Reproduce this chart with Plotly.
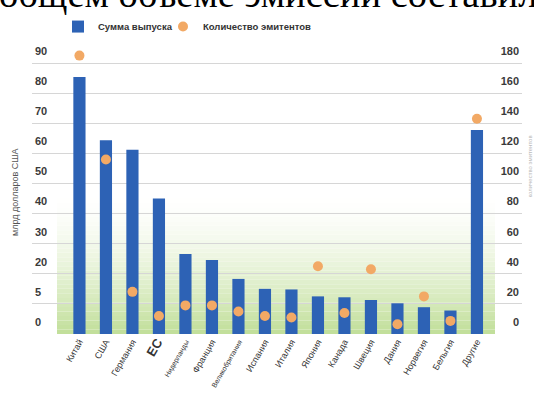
import plotly.graph_objects as go

# ---- data ----
categories = ["Китай", "США", "Германия", "ЕС", "Нидерланды", "Франция",
              "Великобритания", "Испания", "Италия", "Япония", "Канада",
              "Швеция", "Дания", "Норвегия", "Бельгия", "Другие"]
issue_volume = [85.4, 64.4, 61.2, 45.0, 26.6, 24.6, 18.3, 15.0, 14.8,
                12.5, 12.2, 11.3, 10.2, 8.9, 7.8, 67.8]
issuer_count = [185, 116, 28, 12, 19, 19, 15, 12, 11, 45, 14, 43, 6.5, 25, 8.7, 143]

left_tick_vals = [0, 10, 20, 30, 40, 50, 60, 70, 80, 90]
left_tick_text = ["0", "5", "20", "30", "40", "50", "60", "70", "80", "90"]
right_tick_vals = [0, 20, 40, 60, 80, 100, 120, 140, 160, 180]
right_tick_text = ["0", "20", "40", "60", "80", "100", "120", "140", "160", "180"]

x_tick_text = []
for c in categories:
    if c == "ЕС":
        x_tick_text.append("<span style='font-size:13px'><b>ЕС</b></span>")
    elif c in ("Нидерланды", "Великобритания"):
        x_tick_text.append(f"<span style='font-size:7px'>{c}</span>")
    else:
        x_tick_text.append(c)

W, H = 534, 401
ML, MR, MT, MB = 32, 12, 50, 64
plot_w = W - ML - MR
plot_h = H - MT - MB
px_per_unit = 3.074
y_max = plot_h / px_per_unit

BAR = "#2D62B5"
DOT = "#F2A965"
FONT = "Liberation Sans"

fig = go.Figure()
fig.add_trace(go.Bar(
    x=categories, y=issue_volume, name="<b>Сумма выпуска</b>",
    marker=dict(color=BAR, line=dict(width=0)), width=0.46, yaxis="y",
    legend="legend",
))
fig.add_trace(go.Scatter(
    x=categories, y=issuer_count, name="<b>Количество эмитентов</b>", mode="markers",
    marker=dict(color=DOT, size=10, line=dict(width=0)), yaxis="y2", cliponaxis=False,
    legend="legend2",
))

# green gradient background band (decorative)
shapes = []
n = 30
g_top = 45.0
x0p = (57 - ML) / plot_w
x1p = (495 - ML) / plot_w
c0 = (194, 223, 155)
for i in range(n):
    t = i / n
    a = (1 - t) ** 1.5
    col = tuple(int(round(255 + (cc - 255) * a)) for cc in c0)
    shapes.append(dict(type="rect", xref="paper", yref="y",
                       x0=x0p, x1=x1p, y0=g_top * i / n, y1=g_top * (i + 1) / n,
                       fillcolor=f"rgb{col}", line=dict(width=0), layer="below"))

legend_font = dict(size=9.5, color="#333333", family=FONT)
leg_y = 1 + (MT - 23) / plot_h

fig.update_layout(
    width=W, height=H,
    margin=dict(l=ML, r=MR, t=MT, b=MB),
    paper_bgcolor="white", plot_bgcolor="white",
    font=dict(family=FONT, color="#333333", size=9),
    showlegend=True,
    legend=dict(orientation="h", x=(58 - ML) / plot_w, y=leg_y,
                xanchor="left", yanchor="middle", font=legend_font,
                itemwidth=30, bgcolor="rgba(0,0,0,0)"),
    legend2=dict(orientation="h", x=(163 - ML) / plot_w, y=leg_y,
                 xanchor="left", yanchor="middle", font=legend_font,
                 itemwidth=30, bgcolor="rgba(0,0,0,0)"),
    xaxis=dict(type="category", range=[-1.79, 16.70], tickmode="array",
               tickvals=categories, ticktext=x_tick_text, tickangle=-60,
               showgrid=False, zeroline=False, showline=False, ticks="",
               tickfont=dict(size=9, color="#333333", family=FONT)),
    yaxis=dict(range=[0, y_max], tickmode="array", tickvals=left_tick_vals,
               ticktext=[f"<b>{t}</b>" for t in left_tick_text],
               ticklabelposition="inside", ticklabelshift=-12, ticklabeloverflow="allow",
               showgrid=True, gridcolor="#D6D6D6", gridwidth=1, zeroline=False,
               showline=False, ticks="",
               tickfont=dict(size=11, color="#3A3A3A", family=FONT)),
    yaxis2=dict(range=[0, y_max * 2], overlaying="y", side="right", tickmode="array",
                tickvals=right_tick_vals,
                ticktext=[f"<b>{t}</b>" for t in right_tick_text],
                ticklabelposition="inside", ticklabelshift=-12, ticklabeloverflow="allow",
                showgrid=False, zeroline=False, showline=False, ticks="",
                tickfont=dict(size=11, color="#3A3A3A", family=FONT)),
    shapes=shapes,
    annotations=[
        dict(text="общем объеме эмиссий составил", xref="paper", yref="paper",
             x=(-3 - ML) / plot_w, y=1 + (MT - 13) / plot_h,
             xanchor="left", yanchor="bottom", showarrow=False,
             font=dict(family="Liberation Serif", size=38.5, color="black")),
        dict(text="млрд долларов США", xref="paper", yref="paper",
             x=-(ML - 15) / plot_w, y=1 - (192 - MT) / plot_h,
             xanchor="center", yanchor="middle", textangle=-90, showarrow=False,
             font=dict(family=FONT, size=9, color="#555555")),
        dict(text="количество эмитентов", xref="paper", yref="paper",
             x=1 + (530 - (W - MR)) / plot_w, y=1 - (166 - MT) / plot_h,
             xanchor="center", yanchor="middle", textangle=-90, showarrow=False,
             font=dict(family=FONT, size=6, color="#BBBBBB")),
    ],
)

fig.write_html("out.html")
